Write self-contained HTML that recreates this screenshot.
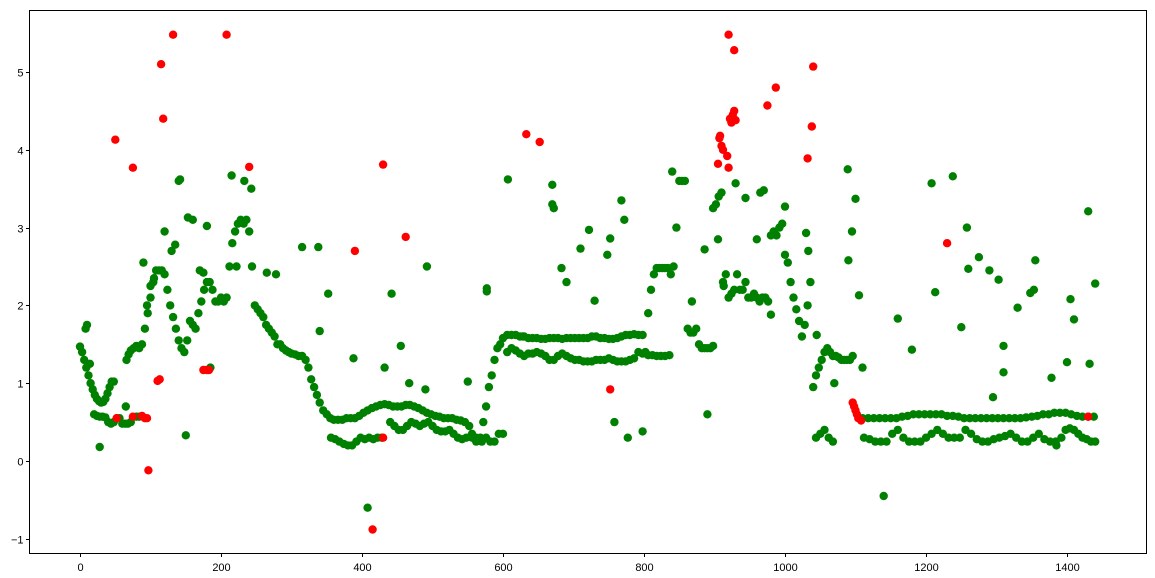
<!DOCTYPE html>
<html><head><meta charset="utf-8"><style>
html,body{margin:0;padding:0;background:#fff;}
svg{display:block;font-family:"Liberation Sans","DejaVu Sans",sans-serif;}
</style></head><body>
<svg id="chart" width="1155" height="578" viewBox="0 0 1155 578" xmlns="http://www.w3.org/2000/svg">
<rect x="0" y="0" width="1155" height="578" fill="#fff"/>
<g id="marks"></g>
<g id="axes"></g>
</svg>
<script>
const xTicks = [0, 200, 400, 600, 800, 1000, 1200, 1400];
const yTicks = [-1, 0, 1, 2, 3, 4, 5];
const greenMain = [
[0,1.47],[3,1.4],[6,1.3],[9,1.2],[12,1.1],[15,1.0],[18,0.92],[21,0.85],[24,0.8],[27,0.77],[30,0.75],[33,0.76],[36,0.8],[39,0.87],[42,0.95],[45,1.02],[48,1.02],
[66,1.3],[69,1.37],[72,1.42],[76,1.45],[80,1.48],[84,1.45],[88,1.5],[92,1.7],[96,1.9],[100,2.1],[104,2.3],[108,2.45],[112,2.45],[116,2.45],[120,2.4],[124,2.2],[128,2.0],[132,1.85],[136,1.7],[140,1.55],[144,1.45],[148,1.4],[152,1.55],[156,1.8],[160,1.75],[164,1.7],[168,1.9],[172,2.05],[176,2.2],[180,2.3],[184,2.3],[188,2.2],[192,2.05],[196,2.05],[200,2.1],[204,2.05],[208,2.1],[212,2.5],[216,2.8],[220,2.95],[224,3.05],[228,3.1],[232,3.05],[236,3.1],[240,2.95],[244,2.5],[248,2.0],[252,1.95],[256,1.9],[260,1.85],[264,1.75],[268,1.7],[272,1.65],[276,1.6],[280,1.5],[284,1.5],[288,1.45],[292,1.42],[296,1.4],[300,1.38],[305,1.37],[310,1.35],[315,1.35],[320,1.3],[324,1.2],[328,1.05],[332,0.95],[336,0.85],[340,0.75],[345,0.65],[350,0.6],[355,0.55],[360,0.53],[366,0.53],[372,0.53],[378,0.55],[384,0.55],[390,0.55],[396,0.58],[402,0.62],[408,0.65],[414,0.68],[420,0.7],[426,0.72],[432,0.73],[438,0.72],[444,0.7],[450,0.7],[456,0.7],[462,0.72],[468,0.72],[474,0.7],[480,0.68],[486,0.65],[492,0.62],[498,0.6],[504,0.58],[510,0.57],[516,0.55],[522,0.55],[528,0.55],[534,0.53],[540,0.52],[546,0.5],[552,0.45],[556,0.35],[562,0.3],[568,0.3],[572,0.5],[576,0.7],[580,0.95],[584,1.1],[588,1.3],[592,1.45],[596,1.5],[600,1.58],[606,1.62],[612,1.62],[618,1.62],[624,1.6],[630,1.6],[636,1.58],[642,1.58],[648,1.58],[654,1.57],[660,1.57],[666,1.58],[672,1.58],[678,1.58],[684,1.57],[690,1.58],[696,1.58],[702,1.58],[708,1.58],[714,1.58],[720,1.58],[726,1.6],[732,1.6],[738,1.58],[744,1.58],[750,1.57],[756,1.57],[762,1.58],[768,1.6],[774,1.62],[780,1.62],[786,1.63],[792,1.62],[798,1.62],[802,1.4],[806,1.9],[810,2.2],[814,2.4],[818,2.48],[822,2.48],[826,2.48],[830,2.48],[834,2.48],[838,2.4],[842,2.5],[846,3.0],[850,3.6],[854,3.6],[858,3.6],[862,1.7],[866,1.65],[870,1.65],[874,1.7],[878,1.5],[882,1.45],[886,1.45],[890,1.45],[894,1.45],[898,1.48],[898,3.25],[902,3.3],[906,3.4],[910,3.45],[912,2.3],[916,2.4],[920,2.1],[924,2.15],[928,2.2],[932,2.4],[936,2.2],[940,2.2],[944,2.3],[948,2.1],[952,2.1],[956,2.15],[960,2.1],[964,2.05],[968,2.1],[972,2.1],[976,2.05],[980,2.9],[984,2.95],[988,2.9],[992,3.0],[996,3.05],[1000,2.65],[1004,2.55],[1008,2.3],[1012,2.1],[1016,1.95],[1020,1.8],[1024,1.6],[1028,1.75],[1032,2.0],[1036,2.3],[1040,0.95],[1044,1.1],[1048,1.2],[1052,1.3],[1056,1.4],[1060,1.45],[1064,1.4],[1068,1.35],[1072,1.35],[1076,1.33],[1080,1.3],[1084,1.3],[1088,1.3],[1092,1.3],[1096,1.35],
[1110,0.55],[1118,0.55],[1126,0.55],[1134,0.55],[1142,0.55],[1150,0.55],[1158,0.55],[1166,0.57],[1174,0.58],[1182,0.6],[1190,0.6],[1198,0.6],[1206,0.6],[1214,0.6],[1222,0.6],[1230,0.58],[1238,0.58],[1246,0.57],[1254,0.55],[1262,0.55],[1270,0.55],[1278,0.55],[1286,0.55],[1294,0.55],[1302,0.55],[1310,0.55],[1318,0.55],[1326,0.55],[1334,0.55],[1342,0.56],[1350,0.57],[1358,0.58],[1366,0.6],[1374,0.6],[1382,0.62],[1390,0.62],[1398,0.62],[1406,0.6],[1414,0.58],[1422,0.57],[1430,0.57],[1438,0.57]
];
const greenLower = [
[20,0.6],[24,0.58],[28,0.57],[32,0.57],[36,0.56],[40,0.5],[44,0.48],[48,0.5],[52,0.55],[56,0.55],[60,0.48],[64,0.48],[68,0.48],[72,0.5],[80,0.57],[84,0.57],
[356,0.3],[362,0.28],[368,0.25],[374,0.22],[380,0.2],[386,0.2],[392,0.25],[398,0.3],[404,0.28],[410,0.3],[416,0.28],[422,0.3],[428,0.3],
[440,0.5],[446,0.45],[452,0.4],[458,0.4],[464,0.45],[470,0.5],[476,0.48],[482,0.45],[488,0.48],[494,0.5],[500,0.45],[506,0.4],[512,0.38],[518,0.38],[524,0.4],[530,0.35],[536,0.3],[542,0.28],[548,0.3],[556,0.3],[562,0.25],[570,0.25],[576,0.3],[582,0.25],[588,0.25],[594,0.35],[600,0.35],
[606,1.4],[612,1.45],[618,1.42],[624,1.38],[630,1.35],[636,1.38],[642,1.38],[648,1.4],[654,1.38],[660,1.35],[666,1.3],[672,1.3],[678,1.35],[684,1.38],[690,1.35],[696,1.32],[702,1.3],[708,1.3],[714,1.28],[720,1.28],[726,1.28],[732,1.3],[738,1.3],[744,1.3],[750,1.32],[756,1.3],[762,1.28],[768,1.28],[774,1.28],[780,1.3],[786,1.32],[792,1.4],[798,1.38],[806,1.36],[812,1.36],[818,1.35],[824,1.35],[830,1.35],[836,1.36],
[1044,0.3],[1050,0.35],[1056,0.4],[1062,0.3],[1068,0.25],
[1112,0.3],[1120,0.28],[1128,0.25],[1136,0.25],[1144,0.25],[1152,0.35],[1160,0.4],[1168,0.3],[1176,0.25],[1184,0.25],[1192,0.25],[1200,0.3],[1208,0.35],[1216,0.4],[1224,0.35],[1232,0.3],[1240,0.3],[1248,0.3],[1256,0.4],[1264,0.35],[1272,0.28],[1280,0.25],[1288,0.25],[1296,0.28],[1304,0.3],[1312,0.32],[1320,0.35],[1328,0.3],[1336,0.25],[1344,0.25],[1352,0.3],[1360,0.35],[1368,0.28],[1376,0.25],[1384,0.25],[1392,0.3],[1398,0.4],[1404,0.42],[1410,0.4],[1416,0.35],[1422,0.3],[1428,0.28],[1434,0.25],[1440,0.25]
];
const greenOutliers = [
[10,1.75],[8,1.7],[14,1.25],[28,0.18],[65,0.7],[90,2.55],[95,2.0],[100,2.25],[105,2.35],[120,2.95],[130,2.7],[135,2.78],[140,3.6],[142,3.62],[150,0.33],[153,3.13],[160,3.1],[170,2.45],[175,2.42],[180,3.02],[185,1.2],[215,3.67],[222,2.5],[233,3.6],[243,3.5],[265,2.42],[278,2.4],[315,2.75],[338,2.75],[340,1.67],[352,2.15],[388,1.32],[408,-0.6],[432,1.2],[442,2.15],[455,1.48],[467,1.0],[490,0.92],[492,2.5],[550,1.02],[577,2.22],[577,2.18],[607,3.62],[628,1.6],[670,3.55],[670,3.3],[672,3.25],[683,2.48],[690,2.3],[710,2.73],[722,2.97],[730,2.06],[748,2.65],[752,2.86],[758,0.5],[768,3.35],[772,3.1],[777,0.3],[798,0.38],[840,3.72],[868,2.05],[886,2.72],[890,0.6],[905,2.85],[913,2.25],[930,3.57],[944,3.38],[960,2.85],[965,3.45],[970,3.48],[980,1.88],[1000,3.27],[1030,2.93],[1033,2.7],[1045,1.62],[1070,1.0],[1089,3.75],[1090,2.58],[1095,2.95],[1100,3.37],[1105,2.13],[1110,1.2],[1140,-0.45],[1160,1.83],[1180,1.43],[1208,3.57],[1213,2.17],[1238,3.66],[1250,1.72],[1258,3.0],[1260,2.47],[1275,2.62],[1290,2.45],[1295,0.82],[1303,2.33],[1310,1.48],[1310,1.14],[1330,1.97],[1348,2.16],[1355,2.58],[1353,2.2],[1378,1.07],[1385,0.2],[1400,1.27],[1405,2.08],[1410,1.82],[1430,3.21],[1432,1.25],[1440,2.28]
];
const redPoints = [
[50,4.13],[52,0.55],[75,3.77],[75,0.57],[88,0.58],[92,0.55],[95,0.55],[97,-0.12],[110,1.03],[113,1.05],[115,5.1],[118,4.4],[132,5.48],[175,1.17],[180,1.17],[183,1.17],[208,5.48],[240,3.78],[390,2.7],[415,-0.88],[430,3.81],[430,0.3],[462,2.88],[633,4.2],[652,4.1],[752,0.92],[905,3.82],[907,4.15],[908,4.18],[910,4.05],[912,4.0],[918,3.92],[920,3.77],[920,5.48],[922,4.4],[924,4.35],[926,4.45],[928,4.5],[928,5.28],[930,4.38],[975,4.57],[987,4.8],[1032,3.89],[1038,4.3],[1040,5.07],[1096,0.75],[1098,0.7],[1100,0.65],[1102,0.6],[1104,0.55],[1108,0.52],[1230,2.8],[1430,0.57]
];

const NS = "http://www.w3.org/2000/svg";
const L = 29.5, R = 1146.5, T = 10.5, B = 553.5;
function xs(v){ return 80 + v * 0.705; }
function ys(v){ return 461 - v * 77.8; }
const marks = document.getElementById('marks');
const axes = document.getElementById('axes');
function dot(p, color, name){
  const c = document.createElementNS(NS, 'circle');
  c.setAttribute('cx', xs(p[0]).toFixed(1));
  c.setAttribute('cy', ys(p[1]).toFixed(1));
  c.setAttribute('r', 4.2);
  c.setAttribute('fill', color);
  
  
  marks.appendChild(c);
}
greenMain.forEach(p => dot(p, '#008000', 'green-point'));
greenLower.forEach(p => dot(p, '#008000', 'green-point'));
greenOutliers.forEach(p => dot(p, '#008000', 'green-point'));
redPoints.forEach(p => dot(p, '#ff0000', 'red-point'));

const frame = document.createElementNS(NS, 'rect');
frame.setAttribute('x', L); frame.setAttribute('y', T);
frame.setAttribute('width', R - L); frame.setAttribute('height', B - T);
frame.setAttribute('fill', 'none'); frame.setAttribute('stroke', '#000'); frame.setAttribute('stroke-width', 1);


axes.appendChild(frame);

xTicks.forEach(t => {
  const x = Math.round(xs(t)) + 0.5;
  const ln = document.createElementNS(NS, 'line');
  ln.setAttribute('x1', x); ln.setAttribute('x2', x);
  ln.setAttribute('y1', B); ln.setAttribute('y2', B + 3.5);
  ln.setAttribute('stroke', '#000');
  
  
  axes.appendChild(ln);
  const tx = document.createElementNS(NS, 'text');
  tx.setAttribute('x', x); tx.setAttribute('y', 571);
  tx.setAttribute('text-anchor', 'middle'); tx.setAttribute('font-size', 11);
  tx.setAttribute('fill', '#000');
  tx.textContent = t;
  
  
  axes.appendChild(tx);
});
yTicks.forEach(t => {
  const y = Math.round(ys(t)) + 0.5;
  const ln = document.createElementNS(NS, 'line');
  ln.setAttribute('x1', L - 3.5); ln.setAttribute('x2', L);
  ln.setAttribute('y1', y); ln.setAttribute('y2', y);
  ln.setAttribute('stroke', '#000');
  
  
  axes.appendChild(ln);
  const tx = document.createElementNS(NS, 'text');
  tx.setAttribute('x', L - 6); tx.setAttribute('y', y + 4);
  tx.setAttribute('text-anchor', 'end'); tx.setAttribute('font-size', 11);
  tx.setAttribute('fill', '#000');
  tx.textContent = t < 0 ? '\u2212' + Math.abs(t) : t;
  
  
  axes.appendChild(tx);
});
</script>
</body></html>
